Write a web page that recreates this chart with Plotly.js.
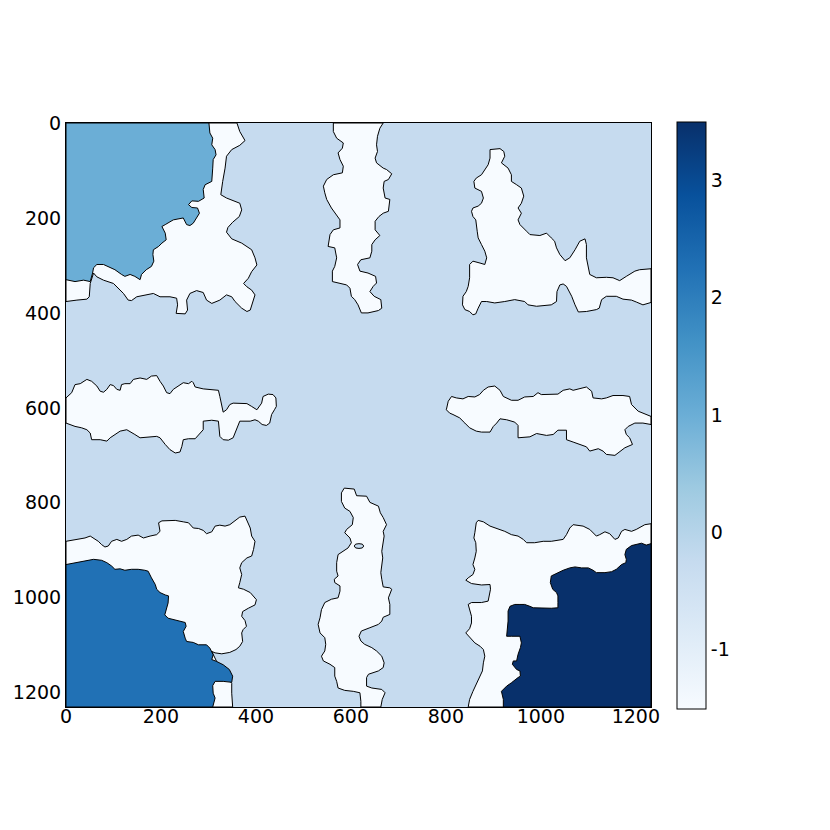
<!DOCTYPE html>
<html>
<head>
<meta charset="utf-8">
<script src="https://cdn.plot.ly/plotly-3.0.1.min.js"></script>
<style>
  body { margin: 0; background: #fff; }
  #myDiv { width: 830px; height: 830px; }
</style>
</head>
<body>
<div id="myDiv"></div>
<script>
// image size (pixels) and label levels
var imageSize = [1232, 1230];
var levelTicks = [-1, 0, 1, 2, 3];
var levelTickText = ['-1', '0', '1', '2', '3'];
var axisTicks = [0, 200, 400, 600, 800, 1000, 1200];
var colorbarRange = [-1.5, 3.5];

// region outlines, [x, y] in image pixels
var blueTopLeft = [[0,0],[301,0],[303,21],[309,32],[307,46],[314,56],[316,67],[310,77],[309,95],[307,123],[293,130],[289,140],[291,158],[279,165],[265,164],[258,172],[265,178],[277,179],[281,190],[275,200],[268,211],[261,216],[254,214],[247,200],[226,204],[209,214],[202,218],[209,232],[211,246],[202,253],[195,260],[184,267],[183,277],[185,291],[180,302],[169,309],[159,319],[156,330],[145,323],[135,319],[124,323],[117,319],[103,309],[79,298],[65,298],[58,305],[56,316],[51,334],[37,331],[19,334],[0,330]];

var whiteTopLeft = [[0,0],[360,0],[366,18],[377,37],[366,47],[349,56],[338,70],[335,95],[330,123],[326,151],[338,158],[366,169],[370,183],[365,197],[351,209],[341,220],[338,230],[349,244],[370,253],[391,267],[398,284],[402,299],[391,313],[384,327],[374,338],[381,345],[391,352],[398,362],[388,394],[381,397],[370,390],[356,376],[349,366],[338,362],[324,373],[307,380],[296,373],[289,357],[275,353],[261,359],[254,373],[256,394],[251,402],[232,401],[235,383],[233,369],[219,366],[198,366],[184,359],[170,362],[149,366],[138,374],[131,373],[121,359],[110,348],[100,338],[79,331],[65,324],[58,316],[51,338],[49,366],[44,371],[23,373],[0,376]];

var whiteTopCenter = [[563,0],[563,18],[570,32],[584,42],[582,53],[573,63],[577,77],[584,91],[582,105],[563,109],[549,119],[542,133],[545,147],[549,161],[559,179],[570,193],[577,204],[577,221],[563,225],[556,235],[552,260],[566,263],[570,284],[566,302],[561,312],[561,334],[573,337],[591,341],[598,348],[601,365],[608,372],[615,383],[622,400],[636,400],[658,395],[665,390],[663,372],[649,365],[640,355],[647,344],[654,337],[652,323],[636,316],[619,312],[614,298],[621,288],[640,284],[644,270],[644,256],[651,246],[661,237],[651,225],[651,207],[659,197],[668,190],[679,186],[682,161],[672,158],[668,137],[670,123],[679,119],[686,107],[675,98],[668,95],[654,84],[651,74],[656,60],[654,46],[656,28],[661,11],[668,0]];

var whiteTopRight = [[893,56],[914,54],[922,60],[924,70],[917,84],[931,95],[938,109],[938,123],[949,130],[959,137],[964,154],[959,169],[952,179],[959,190],[952,204],[956,214],[970,228],[977,235],[998,237],[1012,232],[1022,242],[1029,249],[1033,263],[1040,277],[1051,290],[1061,284],[1072,267],[1082,249],[1093,244],[1096,256],[1096,284],[1103,319],[1117,326],[1138,325],[1152,326],[1166,332],[1180,323],[1198,312],[1208,309],[1232,307],[1232,378],[1215,383],[1201,377],[1191,373],[1173,371],[1159,365],[1138,365],[1128,372],[1123,390],[1117,393],[1096,397],[1079,398],[1072,383],[1065,365],[1054,344],[1047,339],[1040,341],[1034,355],[1033,376],[1022,383],[991,386],[973,383],[966,376],[945,372],[924,376],[903,379],[886,376],[875,376],[868,390],[863,402],[857,404],[850,397],[840,393],[835,383],[836,365],[843,355],[847,344],[850,326],[850,298],[857,291],[872,295],[882,298],[886,284],[882,270],[875,256],[868,242],[866,228],[864,214],[863,204],[857,197],[854,186],[857,179],[868,175],[875,169],[879,158],[875,144],[861,137],[859,123],[864,116],[875,109],[882,98],[889,88],[893,74]];

var whiteMidLeft = [[0,579],[12,568],[19,551],[30,549],[44,540],[54,544],[65,554],[72,565],[79,567],[86,561],[93,551],[100,553],[107,561],[114,563],[117,551],[124,549],[135,549],[142,540],[156,537],[170,540],[180,533],[191,532],[198,544],[205,554],[212,568],[219,570],[226,561],[237,554],[247,547],[258,549],[265,544],[268,547],[272,556],[289,560],[310,561],[321,563],[324,576],[328,593],[331,609],[338,604],[345,593],[352,590],[366,590],[381,591],[391,597],[402,604],[412,590],[415,576],[426,571],[436,572],[442,579],[443,597],[439,604],[433,614],[429,632],[422,637],[413,635],[405,628],[398,625],[388,628],[366,628],[360,642],[352,663],[342,668],[331,667],[324,660],[323,639],[321,628],[307,626],[289,628],[289,646],[282,653],[272,665],[258,665],[247,667],[244,681],[240,693],[230,695],[219,688],[209,677],[198,663],[191,660],[170,661],[156,663],[145,656],[128,646],[114,649],[103,656],[93,663],[86,670],[72,667],[54,667],[51,653],[44,646],[33,642],[19,639],[9,635],[0,632]];

var whiteMidRight = [[801,604],[805,586],[812,576],[822,579],[836,581],[847,576],[861,577],[871,572],[879,563],[889,556],[903,554],[914,563],[921,576],[938,584],[952,584],[966,577],[984,576],[994,568],[1001,572],[1019,572],[1036,571],[1047,563],[1061,560],[1068,563],[1082,560],[1096,556],[1107,565],[1110,579],[1128,581],[1138,579],[1152,574],[1173,574],[1187,576],[1191,593],[1205,607],[1215,611],[1232,618],[1232,635],[1215,632],[1198,632],[1184,639],[1177,646],[1180,656],[1187,663],[1193,677],[1177,684],[1166,693],[1156,700],[1138,698],[1131,691],[1121,686],[1110,689],[1103,691],[1096,682],[1086,679],[1068,672],[1054,667],[1054,647],[1036,647],[1026,656],[1012,658],[991,654],[977,661],[963,663],[952,663],[952,637],[945,630],[928,625],[914,623],[907,632],[900,639],[893,651],[875,651],[864,649],[850,642],[840,632],[829,621],[815,614],[808,611]];

var whiteBottomLeft = [[0,881],[23,877],[40,874],[51,870],[58,874],[68,881],[75,888],[82,893],[89,891],[96,881],[107,877],[117,881],[128,877],[138,870],[152,868],[163,874],[177,870],[191,867],[198,860],[195,842],[202,838],[219,837],[230,837],[247,840],[258,842],[268,853],[279,854],[289,858],[296,865],[307,861],[314,849],[324,847],[335,849],[345,846],[356,837],[366,830],[377,828],[384,842],[388,853],[391,870],[398,881],[395,898],[391,912],[381,916],[370,926],[366,937],[370,951],[366,968],[363,979],[374,982],[388,989],[401,1004],[398,1015],[384,1022],[372,1029],[370,1039],[377,1048],[380,1060],[373,1067],[370,1074],[372,1092],[366,1102],[358,1109],[345,1115],[328,1118],[314,1116],[307,1113],[325,1150],[342,1170],[349,1180],[349,1201],[351,1230],[0,1230]];

var blueBottomLeft = [[0,930],[23,926],[40,923],[58,919],[75,921],[86,926],[96,933],[103,940],[114,939],[124,942],[138,940],[152,940],[166,942],[173,944],[180,958],[188,972],[191,982],[198,989],[209,994],[216,996],[215,1011],[211,1025],[208,1036],[215,1043],[237,1048],[251,1052],[253,1060],[247,1071],[251,1085],[254,1092],[268,1094],[279,1099],[296,1099],[303,1106],[310,1120],[307,1130],[317,1134],[331,1141],[344,1151],[351,1165],[349,1178],[331,1176],[314,1176],[309,1185],[310,1201],[314,1211],[309,1230],[0,1230]];

var whiteBottomCenter = [[586,769],[607,771],[612,785],[633,786],[640,799],[658,807],[662,821],[668,831],[675,846],[672,853],[668,860],[670,870],[668,881],[665,902],[667,916],[665,930],[663,947],[665,961],[668,977],[682,979],[686,982],[679,1000],[682,1014],[682,1035],[668,1041],[665,1049],[658,1056],[640,1063],[622,1070],[617,1081],[621,1091],[629,1098],[644,1105],[654,1112],[665,1123],[670,1137],[668,1147],[658,1154],[637,1161],[633,1168],[633,1186],[644,1190],[665,1193],[672,1200],[666,1214],[663,1230],[621,1230],[621,1218],[619,1200],[605,1197],[587,1195],[573,1190],[570,1176],[566,1165],[566,1147],[556,1140],[542,1133],[538,1123],[545,1112],[547,1098],[545,1084],[535,1074],[531,1056],[535,1042],[538,1025],[545,1010],[559,1003],[573,1000],[577,986],[577,975],[566,968],[565,961],[573,954],[570,944],[570,926],[573,909],[584,902],[594,895],[601,884],[598,874],[587,863],[591,856],[603,846],[605,831],[598,818],[587,811],[580,797],[580,779]];

var holeBottomCenter = [[607,891],[610,887],[617,886],[624,887],[627,891],[624,895],[617,896],[610,895]];

var whiteBottomRight = [[847,1230],[850,1214],[857,1197],[864,1182],[872,1168],[877,1154],[879,1137],[882,1123],[879,1109],[872,1102],[861,1095],[847,1081],[842,1074],[850,1065],[854,1053],[854,1039],[850,1025],[847,1014],[854,1010],[875,1010],[889,1007],[891,993],[894,982],[893,972],[875,973],[854,970],[842,963],[847,958],[857,951],[861,940],[857,930],[861,916],[864,902],[863,884],[859,874],[861,863],[864,842],[868,837],[879,840],[893,849],[907,854],[924,860],[938,867],[952,870],[963,877],[970,884],[987,884],[1005,881],[1022,881],[1036,879],[1047,877],[1054,867],[1061,853],[1068,846],[1082,847],[1089,849],[1103,856],[1110,863],[1117,870],[1124,867],[1135,861],[1145,865],[1156,877],[1163,874],[1170,860],[1177,856],[1191,860],[1201,856],[1212,849],[1219,846],[1232,844],[1232,1230]];

var navyBottomRight = [[1232,886],[1222,889],[1212,885],[1201,887],[1191,890],[1180,898],[1177,909],[1180,919],[1179,926],[1170,930],[1159,940],[1149,945],[1135,947],[1117,947],[1110,942],[1100,937],[1086,937],[1072,935],[1061,937],[1047,942],[1033,949],[1022,954],[1020,968],[1025,982],[1033,989],[1036,996],[1036,1010],[1036,1021],[1022,1022],[1005,1021],[984,1021],[977,1018],[966,1014],[956,1014],[945,1014],[935,1018],[931,1028],[931,1049],[929,1063],[928,1081],[938,1081],[956,1081],[959,1095],[957,1105],[952,1119],[949,1133],[942,1133],[940,1140],[949,1151],[956,1154],[957,1165],[952,1168],[938,1179],[928,1186],[917,1197],[921,1214],[921,1230],[1232,1230]];

// drawing order and label of every region (background label is 0)
var regions = [whiteTopLeft, whiteTopCenter, whiteTopRight, whiteMidLeft, whiteMidRight,
               whiteBottomLeft, whiteBottomCenter, whiteBottomRight,
               blueTopLeft, blueBottomLeft, navyBottomRight, holeBottomCenter];
var regionLabels = [-1, -1, -1, -1, -1, -1, -1, -1, 1, 2, 3, 0];

// matplotlib "Blues"
var blues = [[0, '#f7fbff'], [0.125, '#deebf7'], [0.25, '#c6dbef'], [0.375, '#9ecae1'],
             [0.5, '#6baed6'], [0.625, '#4292c6'], [0.75, '#2171b5'], [0.875, '#08519c'], [1, '#08306b']];

function hexRgb(h) {
  return [parseInt(h.substr(1,2),16), parseInt(h.substr(3,2),16), parseInt(h.substr(5,2),16)];
}
function bluesColor(t) {
  t = Math.max(0, Math.min(1, t));
  for (var i = 0; i < blues.length - 1; i++) {
    if (t <= blues[i+1][0]) {
      var f = (t - blues[i][0]) / (blues[i+1][0] - blues[i][0]);
      var a = hexRgb(blues[i][1]), b = hexRgb(blues[i+1][1]);
      return 'rgb(' + Math.round(a[0]+(b[0]-a[0])*f) + ',' + Math.round(a[1]+(b[1]-a[1])*f) + ',' + Math.round(a[2]+(b[2]-a[2])*f) + ')';
    }
  }
  return blues[blues.length-1][1];
}
// image colours run from the lowest to the highest label
function labelColor(v) {
  return bluesColor((v - levelTicks[0]) / (levelTicks[levelTicks.length-1] - levelTicks[0]));
}

function polygonTrace(pts, label, lineWidth) {
  var xs = pts.map(function (p) { return p[0]; });
  var ys = pts.map(function (p) { return p[1]; });
  xs.push(pts[0][0]);
  ys.push(pts[0][1]);
  return {
    x: xs, y: ys,
    type: 'scatter',
    mode: 'lines',
    fill: 'toself',
    fillcolor: labelColor(label),
    line: {color: '#000', width: lineWidth},
    hoverinfo: 'skip',
    showlegend: false
  };
}

var data = [];
// background (label 0)
data.push(polygonTrace([[0,0],[imageSize[0],0],[imageSize[0],imageSize[1]],[0,imageSize[1]]], 0, 0));
for (var i = 0; i < regions.length; i++) {
  data.push(polygonTrace(regions[i], regionLabels[i], 1));
}

// colorbar only
data.push({
  x: [null], y: [null],
  type: 'scatter',
  mode: 'markers',
  hoverinfo: 'skip',
  showlegend: false,
  marker: {
    color: [0],
    cmin: colorbarRange[0],
    cmax: colorbarRange[1],
    colorscale: blues,
    showscale: true,
    colorbar: {
      x: 1.0444, xanchor: 'left', xpad: 0,
      y: 0.5, yanchor: 'middle', ypad: 0,
      len: 1.005, lenmode: 'fraction',
      thickness: 29, thicknessmode: 'pixels',
      outlinewidth: 1, outlinecolor: '#000',
      tickvals: levelTicks,
      ticktext: levelTickText,
      ticks: '',
      tickfont: {size: 19, color: '#000'}
    }
  }
});

var axisStyle = {
  tickvals: axisTicks,
  ticktext: axisTicks.map(String),
  showgrid: false,
  zeroline: false,
  showline: true,
  mirror: true,
  linecolor: '#000',
  linewidth: 1,
  ticks: '',
  tickfont: {size: 19, color: '#000'}
};

var layout = {
  width: 830,
  height: 830,
  margin: {l: 66, r: 179, t: 123, b: 123, pad: 0},
  paper_bgcolor: '#fff',
  plot_bgcolor: '#fff',
  font: {family: 'DejaVu Sans', size: 19, color: '#000'},
  showlegend: false,
  xaxis: Object.assign({range: [0, imageSize[0]], ticklabelstandoff: -8}, axisStyle),
  yaxis: Object.assign({range: [imageSize[1], 0]}, axisStyle)
};

Plotly.newPlot('myDiv', data, layout, {displayModeBar: false, staticPlot: true});
</script>
</body>
</html>
